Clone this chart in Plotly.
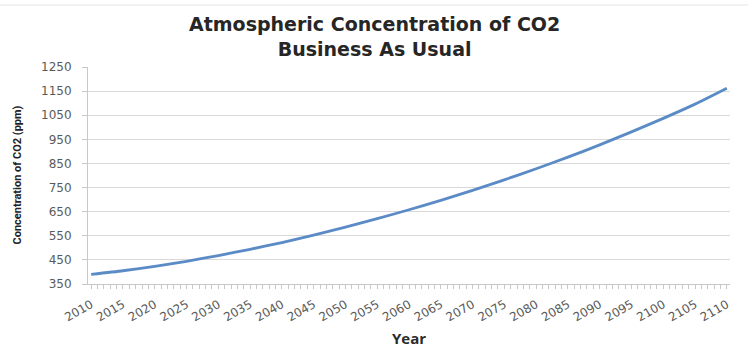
import plotly.graph_objects as go

# Business-as-usual CO2 projection, ppm, every five years
years = [2010, 2015, 2020, 2025, 2030, 2035, 2040, 2045, 2050, 2055, 2060,
         2065, 2070, 2075, 2080, 2085, 2090, 2095, 2100, 2105, 2110]
co2_ppm = [390, 405, 423, 444, 468, 494, 522, 553, 586, 621, 658,
           697, 738, 782, 828, 876, 927, 981, 1037, 1096, 1162]

tick_years = list(range(2010, 2111, 5))
tick_labels = [str(y) for y in tick_years]
y_ticks = list(range(350, 1251, 100))

title_lines = ["Atmospheric Concentration of CO2", "Business As Usual"]
x_title = "Year"
y_title = "Concentration of CO2 (ppm)"

# plot area in pixels: x 88..730, y 67..284
LEFT, RIGHT = 88, 730
TOP, BOTTOM = 67, 284
W = RIGHT - LEFT
H = BOTTOM - TOP


def px(p):
    """pixel column -> paper x"""
    return (p - LEFT) / W


def py(p):
    """pixel row -> paper y"""
    return (BOTTOM - p) / H


fig = go.Figure()
fig.add_trace(go.Scatter(
    x=years, y=co2_ppm, mode="lines",
    line=dict(color="#5b8bc6", width=2.8, shape="spline", smoothing=0.6),
    hoverinfo="x+y",
))

tick_font = dict(family="DejaVu Sans, sans-serif", size=12, color="#5a5a5a")
title_font = dict(family="DejaVu Sans, Open Sans, sans-serif", size=19, color="#262626", weight="bold")

annotations = [
    dict(text="<br>".join(title_lines), x=px(374), xref="paper", y=py(36), yref="paper",
         xanchor="center", yanchor="middle", showarrow=False, font=title_font),
    dict(text=x_title, x=0.5, xref="paper", y=py(338), yref="paper",
         xanchor="center", yanchor="middle", showarrow=False,
         font=dict(family="Open Sans, Lato, sans-serif", size=15, color="#2b2b2b", weight="bold")),
    dict(text=y_title, x=0, xref="paper", xanchor="center", xshift=-71,
         y=0.5, yref="paper", yanchor="middle", textangle=-90, showarrow=False,
         font=dict(family="Liberation Sans Narrow, Roboto, sans-serif", size=11,
                   color="#222222", weight="bold")),
]

fig.update_layout(
    width=748, height=347,
    margin=dict(l=LEFT, r=748 - RIGHT, t=TOP, b=347 - BOTTOM),
    paper_bgcolor="white", plot_bgcolor="white",
    showlegend=False,
    xaxis=dict(
        range=[2009.5, 2110.5],
        tickmode="array", tickvals=tick_years, ticktext=tick_labels,
        tickangle=-30,
        tickfont=tick_font,
        ticklabelstandoff=4,
        showgrid=False, zeroline=False,
        showline=True, linecolor="#c8c8c8", linewidth=1,
        ticks="outside", ticklen=4, tickcolor="#c8c8c8",
        minor=dict(dtick=1, ticks="outside", ticklen=4, tickcolor="#c8c8c8"),
    ),
    yaxis=dict(
        range=[350, 1250],
        tickmode="array", tickvals=y_ticks,
        tickfont=tick_font,
        ticklabelstandoff=8,
        showgrid=True, gridcolor="#d9d9d9", gridwidth=1,
        zeroline=False,
        showline=True, linecolor="#c8c8c8", linewidth=1,
        ticks="outside", ticklen=5, tickcolor="#c8c8c8",
    ),
    annotations=annotations,
    shapes=[dict(type="line", xref="paper", yref="paper",
                 x0=px(0), x1=px(748), y0=py(5), y1=py(5),
                 line=dict(color="#ececec", width=1.5))],
)

fig.write_html("out.html")
